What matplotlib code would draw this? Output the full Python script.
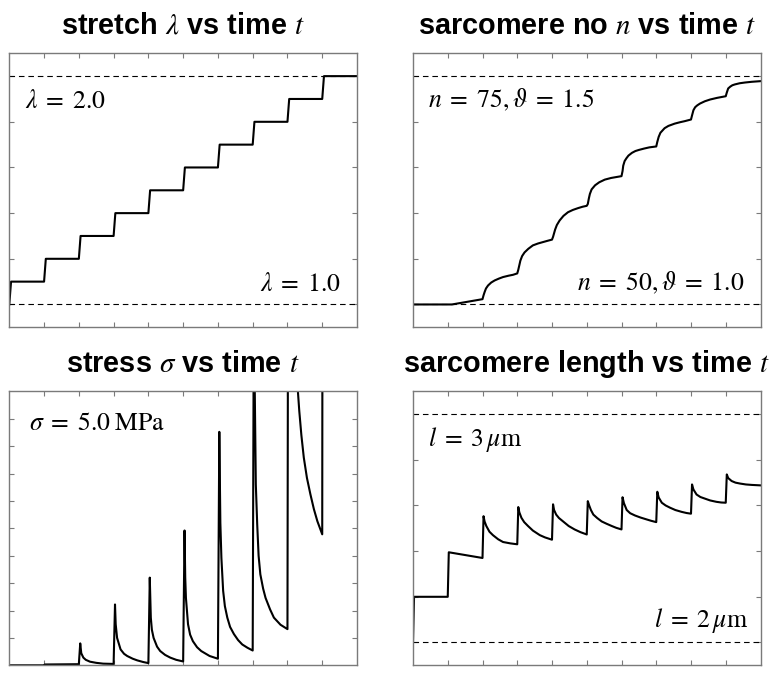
import numpy as np
import matplotlib
matplotlib.use("Agg")
import matplotlib.pyplot as plt

plt.rcParams['mathtext.fontset'] = 'stix'
plt.rcParams['font.family'] = ['Liberation Sans', 'DejaVu Sans']

# ---------------- data ----------------
# stretch: step levels reached at each step time
step_times = [0, 1, 2, 3, 4, 5, 6, 7, 8, 9]
stretch_levels = [1.1, 1.2, 1.3, 1.4, 1.5, 1.6, 1.7, 1.8, 1.9, 2.0]
stretch_start = 1.0
t_end = 10.0
ramp = 0.05

# sarcomere number n
n_t = [0, 1.12, 2.0,
       2.03, 2.06, 2.1, 2.16, 2.25, 2.35, 2.47, 2.59, 2.75, 2.88, 3.0,
       3.03, 3.06, 3.09, 3.14, 3.21, 3.32, 3.45, 3.6, 3.74, 3.88, 4.0,
       4.03, 4.06, 4.09, 4.14, 4.22, 4.33, 4.46, 4.6, 4.75, 4.88, 5.0,
       5.03, 5.06, 5.09, 5.14, 5.24, 5.36, 5.52, 5.7, 5.85, 6.0,
       6.03, 6.05, 6.09, 6.14, 6.2, 6.3, 6.4, 6.5, 6.65, 6.8, 7.0,
       7.03, 7.07, 7.12, 7.18, 7.24, 7.35, 7.53, 7.68, 7.82, 8.0,
       8.03, 8.07, 8.12, 8.18, 8.26, 8.4, 8.55, 8.75, 9.0,
       9.03, 9.07, 9.13, 9.19, 9.26, 9.4, 9.55, 9.75, 10.0]
n_val = [50, 50, 50.58,
         51.0, 51.35, 51.75, 52.08, 52.4, 52.63, 52.83, 53.0, 53.15, 53.25, 53.4,
         53.8, 54.3, 54.8, 55.3, 55.7, 56.1, 56.47, 56.68, 56.83, 56.98, 57.1,
         57.4, 57.8, 58.2, 58.7, 59.2, 59.7, 60.1, 60.35, 60.55, 60.7, 60.8,
         61.0, 61.6, 62.1, 62.6, 63.05, 63.38, 63.67, 63.85, 63.95, 64.05,
         64.6, 65.2, 65.7, 66.0, 66.3, 66.6, 66.8, 66.92, 67.07, 67.2, 67.3,
         67.8, 68.35, 68.8, 69.05, 69.3, 69.55, 69.8, 69.95, 70.07, 70.25,
         70.7, 71.27, 71.6, 71.8, 72.0, 72.25, 72.44, 72.62, 72.8,
         73.2, 73.65, 73.85, 74.0, 74.09, 74.22, 74.3, 74.38, 74.45]

# stress sigma [MPa]
sigma_t = [0, 1, 1.02, 2.0,
           2.04, 2.07, 2.13, 2.2, 2.32, 2.5, 2.7, 3.0,
           3.04, 3.06, 3.1, 3.2, 3.3, 3.39, 3.55, 3.68, 3.85, 4.0,
           4.04, 4.07, 4.1, 4.15, 4.25, 4.34, 4.48, 4.63, 4.8, 5.0,
           5.04, 5.06, 5.08, 5.14, 5.2, 5.28, 5.4, 5.52, 5.76, 6.0,
           6.04, 6.07, 6.1, 6.15, 6.2, 6.27, 6.35, 6.46, 6.58, 6.7, 6.85, 7.0,
           7.04, 7.06, 7.09, 7.13, 7.17, 7.22, 7.3, 7.37, 7.5, 7.61, 7.8, 8.0,
           8.04, 8.15, 8.3, 8.34, 8.4, 8.47, 8.56, 8.66, 8.76, 8.86, 9.0,
           9.04, 9.3, 9.6, 10.0]
sigma_val = [0, 0, 0.015, 0.02,
             0.40, 0.22, 0.14, 0.10, 0.066, 0.045, 0.03, 0.025,
             1.11, 0.75, 0.50, 0.29, 0.21, 0.17, 0.12, 0.09, 0.06, 0.04,
             1.60, 0.87, 0.65, 0.50, 0.34, 0.26, 0.19, 0.14, 0.10, 0.07,
             2.46, 1.6, 1.23, 0.75, 0.56, 0.44, 0.33, 0.26, 0.17, 0.12,
             4.26, 2.6, 1.96, 1.36, 1.08, 0.87, 0.70, 0.57, 0.46, 0.38, 0.32, 0.27,
             8.0, 5.0, 3.3, 2.57, 2.0, 1.66, 1.40, 1.23, 1.02, 0.87, 0.74, 0.66,
             16.0, 7.5, 5.0, 4.64, 4.2, 3.79, 3.42, 3.12, 2.85, 2.63, 2.39,
             30.0, 14.0, 10.0, 8.5]

# sarcomere length l [um]
l_t = [0, 0.03, 1.0, 1.03, 2.0,
       2.03, 2.06, 2.11, 2.2, 2.3, 2.45, 2.59, 2.8, 3.0,
       3.03, 3.06, 3.12, 3.2, 3.31, 3.45, 3.65, 3.8, 4.0,
       4.03, 4.06, 4.12, 4.2, 4.32, 4.48, 4.65, 4.82, 5.0,
       5.03, 5.07, 5.12, 5.19, 5.3, 5.43, 5.57, 5.72, 5.85, 6.0,
       6.03, 6.07, 6.15, 6.25, 6.39, 6.55, 6.72, 6.85, 7.0,
       7.03, 7.07, 7.16, 7.27, 7.4, 7.55, 7.73, 7.87, 8.0,
       8.03, 8.07, 8.16, 8.27, 8.4, 8.55, 8.73, 8.87, 9.0,
       9.03, 9.07, 9.17, 9.28, 9.41, 9.58, 9.75, 10.0]
l_val = [2.0, 2.2, 2.2, 2.395, 2.37,
         2.553, 2.53, 2.51, 2.485, 2.47, 2.452, 2.44, 2.434, 2.43,
         2.593, 2.57, 2.546, 2.527, 2.51, 2.49, 2.47, 2.46, 2.45,
         2.605, 2.58, 2.56, 2.545, 2.53, 2.51, 2.495, 2.483, 2.473,
         2.619, 2.6, 2.58, 2.56, 2.545, 2.53, 2.52, 2.51, 2.502, 2.495,
         2.636, 2.61, 2.58, 2.566, 2.556, 2.547, 2.539, 2.533, 2.527,
         2.66, 2.635, 2.612, 2.6, 2.59, 2.58, 2.572, 2.567, 2.564,
         2.692, 2.67, 2.648, 2.637, 2.63, 2.622, 2.616, 2.613, 2.612,
         2.736, 2.72, 2.707, 2.70, 2.696, 2.692, 2.69, 2.688]

# ---------------- figure ----------------
W, H = 774, 676
fig = plt.figure(figsize=(W / 100, H / 100), dpi=100)

def ax_at(x0, y0, x1, y1):
    return fig.add_axes([x0 / W, 1 - y1 / H, (x1 - x0) / W, (y1 - y0) / H])

ax1 = ax_at(9.3, 53.3, 357, 327.3)
ax2 = ax_at(413, 53.3, 760.5, 327.3)
ax3 = ax_at(9.3, 391.3, 357, 665.3)
ax4 = ax_at(413, 391.3, 760.5, 665.3)

frame_col = '#7a7a7a'
title_kw = dict(fontsize=20.8, fontweight='bold', pad=14)
txt_kw = dict(fontsize=18.5, color='black')
dash_kw = dict(color='black', lw=0.8, ls=(0, (5, 3.5)))
line_kw = dict(color='black', lw=1.5)

def style(ax, yticks, ylim):
    ax.set_xlim(0, t_end)
    ax.set_ylim(*ylim)
    ax.set_xticks(np.arange(1, 10))
    ax.set_yticks(yticks)
    ax.tick_params(direction='in', length=3.5, width=0.8, color=frame_col,
                   top=True, right=True, labelbottom=False, labelleft=False)
    for s in ax.spines.values():
        s.set_color(frame_col)
        s.set_linewidth(1.0)

# panel 1: stretch
st_t = [0.0]
st_v = [stretch_start]
prev = stretch_start
for tk, lev in zip(step_times, stretch_levels):
    st_t += [tk, tk + ramp]
    st_v += [prev, lev]
    prev = lev
st_t.append(t_end)
st_v.append(prev)
ax1.axhline(2.0, **dash_kw)
ax1.axhline(1.0, **dash_kw)
ax1.plot(st_t, st_v, **line_kw)
style(ax1, np.arange(1.0, 2.01, 0.2), (0.9, 2.1))
ax1.set_title(r'stretch $\lambda$ vs time $t$', **title_kw)
ax1.text(0.45, 1.86, r'$\lambda\;=\;2.0$', ha='left', va='baseline', **txt_kw)
ax1.text(9.53, 1.061, r'$\lambda\;=\;1.0$', ha='right', va='baseline', **txt_kw)

# panel 2: sarcomere number
ax2.axhline(75, **dash_kw)
ax2.axhline(50, **dash_kw)
ax2.plot(n_t, n_val, **line_kw)
style(ax2, np.arange(50, 75.1, 5), (47.5, 77.5))
ax2.set_title(r'sarcomere no $n$ vs time $t$', **title_kw)
ax2.text(0.42, 71.6, r'$n\;=\;75,\vartheta\;=\;1.5$', ha='left', va='baseline', **txt_kw)
ax2.text(9.55, 51.5, r'$n\;=\;50,\vartheta\;=\;1.0$', ha='right', va='baseline', **txt_kw)

# panel 3: stress
ax3.plot(sigma_t, sigma_val, **line_kw)
style(ax3, np.arange(0.5, 4.51, 0.5), (0, 5))
ax3.set_title(r'stress $\sigma$ vs time $t$', **title_kw)
ax3.text(0.575, 4.30, r'$\sigma\;=\;5.0\;\mathrm{MPa}$', ha='left', va='baseline', **txt_kw)

# panel 4: sarcomere length
ax4.axhline(3.0, **dash_kw)
ax4.axhline(2.0, **dash_kw)
ax4.plot(l_t, l_val, **line_kw)
style(ax4, np.arange(2.0, 3.01, 0.2), (1.9, 3.1))
ax4.set_title(r'sarcomere length vs time $t$', **title_kw)
ax4.text(0.42, 2.86, r'$l\;=\;3\,\mu\mathrm{m}$', ha='left', va='baseline', **txt_kw)
ax4.text(9.64, 2.066, r'$l\;=\;2\,\mu\mathrm{m}$', ha='right', va='baseline', **txt_kw)

fig.savefig('out.png', dpi=100)
